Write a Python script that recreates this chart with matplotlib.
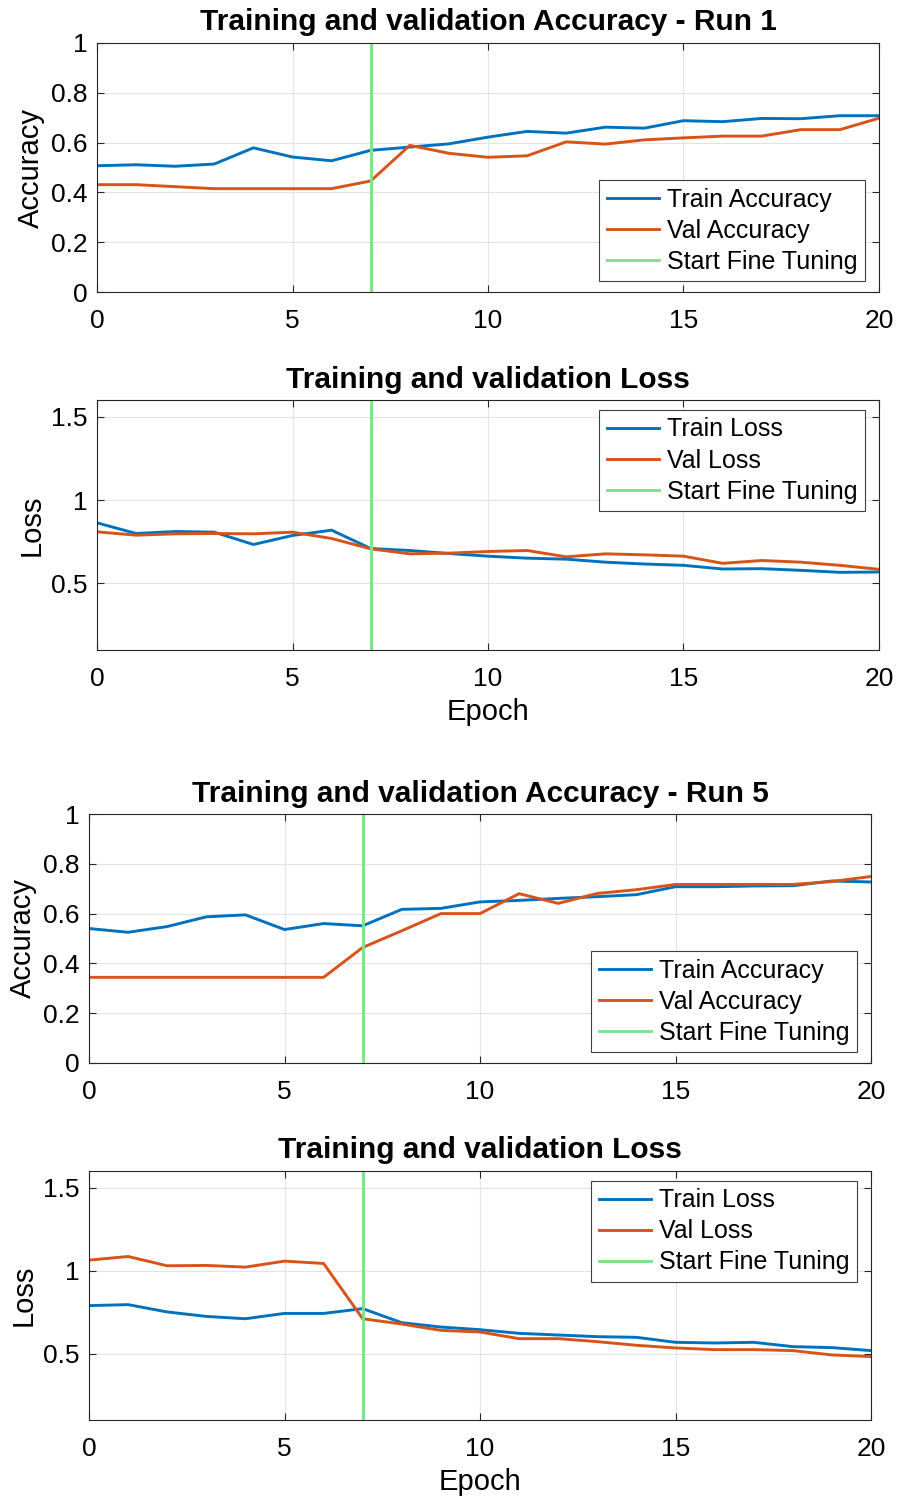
import matplotlib
matplotlib.use("Agg")
import matplotlib.pyplot as plt

plt.rcParams['font.family'] = ['Liberation Sans', 'DejaVu Sans']

# ------------------------------------------
# Training history per run
# ------------------------------------------
epochs = list(range(21))
fine_tune_epoch = 7

run1_train_acc = [0.507, 0.511, 0.505, 0.514, 0.579, 0.542, 0.527, 0.569, 0.582, 0.595, 0.622,
                  0.645, 0.638, 0.662, 0.658, 0.688, 0.684, 0.697, 0.696, 0.708, 0.708]
run1_val_acc = [0.431, 0.431, 0.423, 0.415, 0.415, 0.415, 0.415, 0.446, 0.589, 0.557, 0.541,
                0.547, 0.603, 0.594, 0.611, 0.619, 0.626, 0.626, 0.652, 0.652, 0.698]
run1_train_loss = [0.863, 0.799, 0.811, 0.807, 0.733, 0.787, 0.819, 0.709, 0.697, 0.679, 0.663,
                   0.651, 0.645, 0.627, 0.616, 0.608, 0.586, 0.588, 0.578, 0.566, 0.568]
run1_val_loss = [0.809, 0.789, 0.797, 0.799, 0.797, 0.807, 0.769, 0.707, 0.677, 0.681, 0.691,
                 0.697, 0.659, 0.677, 0.671, 0.663, 0.620, 0.637, 0.627, 0.608, 0.584]

run5_train_acc = [0.540, 0.525, 0.548, 0.587, 0.595, 0.536, 0.560, 0.551, 0.617, 0.621, 0.647,
                  0.653, 0.661, 0.668, 0.676, 0.708, 0.708, 0.711, 0.712, 0.731, 0.727]
run5_val_acc = [0.344, 0.344, 0.344, 0.344, 0.344, 0.344, 0.344, 0.464, 0.531, 0.600, 0.600,
                0.680, 0.641, 0.681, 0.696, 0.717, 0.717, 0.717, 0.717, 0.729, 0.749]
run5_train_loss = [0.789, 0.795, 0.751, 0.724, 0.710, 0.742, 0.742, 0.771, 0.686, 0.660, 0.644,
                   0.622, 0.612, 0.602, 0.598, 0.568, 0.564, 0.568, 0.542, 0.536, 0.518]
run5_val_loss = [1.063, 1.085, 1.029, 1.031, 1.021, 1.057, 1.043, 0.710, 0.678, 0.640, 0.630,
                 0.590, 0.590, 0.572, 0.550, 0.534, 0.524, 0.524, 0.518, 0.492, 0.482]

BLUE = '#0072BD'
ORANGE = '#D95319'
GREEN = '#80E290'


def style_axes(ax):
    """MATLAB-like box, inward ticks and a faint grid."""
    ax.grid(True, color='#e3e3e3', linewidth=0.8)
    ax.set_axisbelow(True)
    for s in ax.spines.values():
        s.set_color('#262626')
        s.set_linewidth(0.8)
    ax.tick_params(direction='in', top=True, right=True, length=5, width=0.8,
                   labelsize=19, colors='#262626', labelcolor='black')
    ax.tick_params(axis='x', pad=12)
    ax.tick_params(axis='y', pad=7)


def draw_panel(ax, train, val, kind, title, xlabel=None):
    ax.plot(epochs, train, color=BLUE, lw=2.1, label=f'Train {kind}')
    ax.plot(epochs, val, color=ORANGE, lw=2.1, label=f'Val {kind}')
    ax.axvline(fine_tune_epoch, color=GREEN, lw=2.1, label='Start Fine Tuning')
    ax.set_xlim(0, 20)
    ax.set_xticks([0, 5, 10, 15, 20])
    if kind == 'Accuracy':
        ax.set_ylim(0, 1)
        ax.set_yticks([0, 0.2, 0.4, 0.6, 0.8, 1])
        ax.set_yticklabels(['0', '0.2', '0.4', '0.6', '0.8', '1'])
        loc = 'lower right'
        anchor = (0.982, 0.044)
    else:
        ax.set_ylim(0.1, 1.6)
        ax.set_yticks([0.5, 1, 1.5])
        ax.set_yticklabels(['0.5', '1', '1.5'])
        loc = 'upper right'
        anchor = (0.982, 0.96)
    style_axes(ax)
    ax.set_title(title, fontsize=21.5, fontweight='bold', pad=9)
    ax.set_ylabel(kind, fontsize=21, labelpad=4)
    if xlabel:
        ax.set_xlabel(xlabel, fontsize=21, labelpad=5)
    leg = ax.legend(loc=loc, bbox_to_anchor=anchor, fontsize=18, frameon=True, fancybox=False,
                    framealpha=1, edgecolor='#404040', handlelength=2.1, handletextpad=0.3,
                    borderpad=0.3, labelspacing=0.28, borderaxespad=0)
    leg.get_frame().set_linewidth(0.8)


fig = plt.figure(figsize=(8.98, 15.02), dpi=100)
H = 1502.0
W = 898.0


def add_axes(left, top, bottom, right):
    return fig.add_axes([left / W, 1 - bottom / H, (right - left) / W, (bottom - top) / H])


ax1 = add_axes(97, 43, 292, 879)
ax2 = add_axes(97, 400, 650, 879)
ax3 = add_axes(89, 814, 1063, 871)
ax4 = add_axes(89, 1171, 1420, 871)

draw_panel(ax1, run1_train_acc, run1_val_acc, 'Accuracy', 'Training and validation Accuracy - Run 1')
draw_panel(ax2, run1_train_loss, run1_val_loss, 'Loss', 'Training and validation Loss', 'Epoch')
draw_panel(ax3, run5_train_acc, run5_val_acc, 'Accuracy', 'Training and validation Accuracy - Run 5')
draw_panel(ax4, run5_train_loss, run5_val_loss, 'Loss', 'Training and validation Loss', 'Epoch')

fig.savefig('out.png', dpi=100)
